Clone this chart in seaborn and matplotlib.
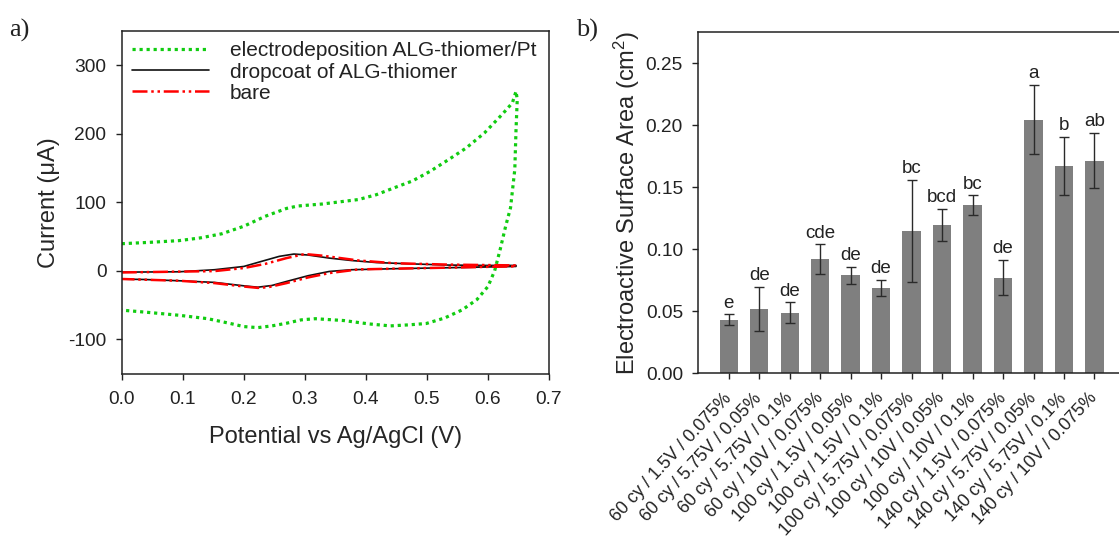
import numpy as np
import pandas as pd
import matplotlib
matplotlib.use("Agg")
import matplotlib.pyplot as plt
from matplotlib.ticker import FormatStrFormatter, MultipleLocator
import seaborn as sns

# ---------------- data: cyclic voltammograms (E in V, I in uA) ----------------
E_electrodep = [0.000, 0.046, 0.094, 0.129, 0.164, 0.200, 0.235, 0.270, 0.288, 0.329,
                0.388, 0.417, 0.446, 0.476, 0.505, 0.535, 0.564, 0.594, 0.623, 0.640,
                0.646, 0.648, 0.646, 0.644, 0.637, 0.629, 0.620, 0.611, 0.600, 0.582,
                0.558, 0.529, 0.499, 0.470, 0.440, 0.405, 0.364, 0.317, 0.294, 0.270,
                0.246, 0.223, 0.200, 0.176, 0.141, 0.094, 0.046, 0.000]
I_electrodep = [39.5, 41.5, 44, 48, 54, 65, 79.5, 91, 94.5, 97.5,
                104, 111, 121, 131, 145, 162, 179, 201, 228, 245,
                262, 250, 206, 148, 92, 65, 31, 0, -23, -42,
                -57, -69, -77, -79, -80.5, -77.6, -72.7, -70, -71.7, -76.6,
                -80.5, -83, -81.5, -76.6, -70, -65, -61, -57.5]

E_dropcoat = [0.000, 0.094, 0.152, 0.200, 0.229, 0.258, 0.282, 0.305, 0.340, 0.376,
              0.417, 0.476, 0.535, 0.594, 0.646,
              0.646, 0.564, 0.446, 0.376, 0.340, 0.305, 0.270, 0.246, 0.223, 0.200,
              0.152, 0.094, 0.035, 0.000]
I_dropcoat = [-2, -1.5, 1.5, 6.3, 13.7, 21, 24.4, 23, 18.5, 15,
              12, 10, 8.3, 7.8, 7.8,
              6.3, 4.9, 3, 1.5, -1, -7.3, -15.6, -21.5, -24, -22,
              -17, -14.6, -12.7, -12.2]

E_bare = [0.000, 0.152, 0.200, 0.235, 0.270, 0.300, 0.329, 0.388, 0.446, 0.535, 0.646,
          0.646, 0.388, 0.340, 0.305, 0.270, 0.240, 0.223, 0.200, 0.152, 0.094, 0.000]
I_bare = [-2.5, -0.5, 4, 10, 18.5, 24.4, 22, 15, 11, 9, 7.8,
          6.5, 2, -3.4, -9.8, -18, -24, -25, -23, -18, -14.6, -12]

# ---------------- data: electroactive surface area ----------------
conditions = ["60 cy / 1.5V / 0.075%", "60 cy / 5.75V / 0.05%", "60 cy / 5.75V / 0.1%",
              "60 cy / 10V / 0.075%", "100 cy / 1.5V / 0.05%", "100 cy / 1.5V / 0.1%",
              "100 cy / 5.75V / 0.075%", "100 cy / 10V / 0.05%", "100 cy / 10V / 0.1%",
              "140 cy / 1.5V / 0.075%", "140 cy / 5.75V / 0.05%", "140 cy / 5.75V / 0.1%",
              "140 cy / 10V / 0.075%"]
area = [0.0432, 0.0517, 0.0488, 0.0920, 0.0790, 0.0689, 0.1150, 0.1198, 0.1355,
        0.0772, 0.2045, 0.1675, 0.1715]
area_sd = [0.0043, 0.0180, 0.0083, 0.0120, 0.0067, 0.0062, 0.0410, 0.0130, 0.0080,
           0.0144, 0.0280, 0.0234, 0.0222]
groups = ["e", "de", "de", "cde", "de", "de", "bc", "bcd", "bc", "de", "a", "b", "ab"]

# ---------------- style ----------------
sns.set_style("ticks")
plt.rcParams["font.family"] = ["Liberation Sans", "DejaVu Sans"]
plt.rcParams["mathtext.fontset"] = "custom"
plt.rcParams["mathtext.rm"] = "Liberation Sans"
plt.rcParams["mathtext.it"] = "Liberation Sans:italic"
plt.rcParams["axes.unicode_minus"] = False
plt.rcParams["axes.edgecolor"] = "#222222"
plt.rcParams["axes.linewidth"] = 1.1
plt.rcParams["xtick.color"] = "#222222"
plt.rcParams["ytick.color"] = "#222222"
plt.rcParams["text.color"] = "#222222"

TICK_FS = 13.8
LABEL_FS = 17

fig = plt.figure(figsize=(11.19, 5.5), dpi=100)
ax1 = fig.add_axes([0.1088, 0.3209, 0.3818, 0.6227])
ax2 = fig.add_axes([0.6240, 0.3213, 0.3813, 0.6211])

# ---------------- panel a: CV curves ----------------
cv = {
    "electrodeposition ALG-thiomer/Pt": (E_electrodep, I_electrodep, "#11cc11", (0, (1, 1.2)), 2.3),
    "dropcoat of ALG-thiomer": (E_dropcoat, I_dropcoat, "#111111", "-", 1.2),
    "bare": (E_bare, I_bare, "#ff0000", (0, (6, 1.5, 1, 1.5, 1, 1.5)), 1.8),
}
for name, (e, i, col, ls, lw) in cv.items():
    df = pd.DataFrame({"E": e, "I": i})
    sns.lineplot(data=df, x="E", y="I", ax=ax1, sort=False, estimator=None,
                 color=col, linestyle=ls, linewidth=lw, label=name)

ax1.set_xlim(0, 0.7)
ax1.set_ylim(-150, 350)
ax1.xaxis.set_major_locator(MultipleLocator(0.1))
ax1.xaxis.set_major_formatter(FormatStrFormatter("%.1f"))
ax1.set_yticks([-100, 0, 100, 200, 300])
ax1.tick_params(direction="out", length=4.5, width=1, labelsize=TICK_FS, pad=6.5)
ax1.tick_params(axis="x", pad=8)
ax1.set_xlabel("Potential vs Ag/AgCl (V)", fontsize=LABEL_FS, labelpad=13)
ax1.set_ylabel("Current (μA)", fontsize=LABEL_FS, labelpad=6)
for s in ax1.spines.values():
    s.set_visible(True)
leg = ax1.legend(loc="upper left", frameon=False, fontsize=15, handlelength=3.7,
                 handletextpad=1.0, labelspacing=0.1, borderaxespad=0.25,
                 borderpad=0.25)

# ---------------- panel b: surface area bars ----------------
bar_df = pd.DataFrame({"cond": conditions, "area": area})
sns.barplot(data=bar_df, x="cond", y="area", ax=ax2, color="#7f7f7f",
            saturation=1, width=0.6, errorbar=None, edgecolor="none")
xpos = np.arange(len(conditions))
ax2.errorbar(xpos, area, yerr=area_sd, fmt="none", ecolor="#2a2a2a",
             elinewidth=1.0, capsize=3.6, capthick=1.0)
for x, v, sd, g in zip(xpos, area, area_sd, groups):
    ax2.annotate(g, (x, v + sd), xytext=(0, 2), textcoords="offset points",
                 ha="center", va="bottom", fontsize=13.5)

ax2.set_xlim(-1, 13)
ax2.set_ylim(0, 0.2755)
ax2.set_yticks([0.0, 0.05, 0.10, 0.15, 0.20, 0.25])
ax2.yaxis.set_major_formatter(FormatStrFormatter("%.2f"))
ax2.tick_params(direction="out", length=4.5, width=1, labelsize=TICK_FS, pad=6.5)
ax2.set_xticks(xpos)
ax2.set_xticklabels(conditions, rotation=47, ha="right", va="center",
                    rotation_mode="anchor", fontsize=12.8)
ax2.tick_params(axis="x", pad=11.5)
ax2.set_xlabel("")
ax2.set_ylabel("Electroactive Surface Area (cm$^2$)", fontsize=LABEL_FS, labelpad=3)
for s in ax2.spines.values():
    s.set_visible(True)

# panel letters
fig.text(0.008, 0.945, "a)", family="Liberation Serif", fontsize=19, ha="left", va="center")
fig.text(0.515, 0.945, "b)", family="Liberation Serif", fontsize=19, ha="left", va="center")

fig.savefig("out.png", dpi=100)
